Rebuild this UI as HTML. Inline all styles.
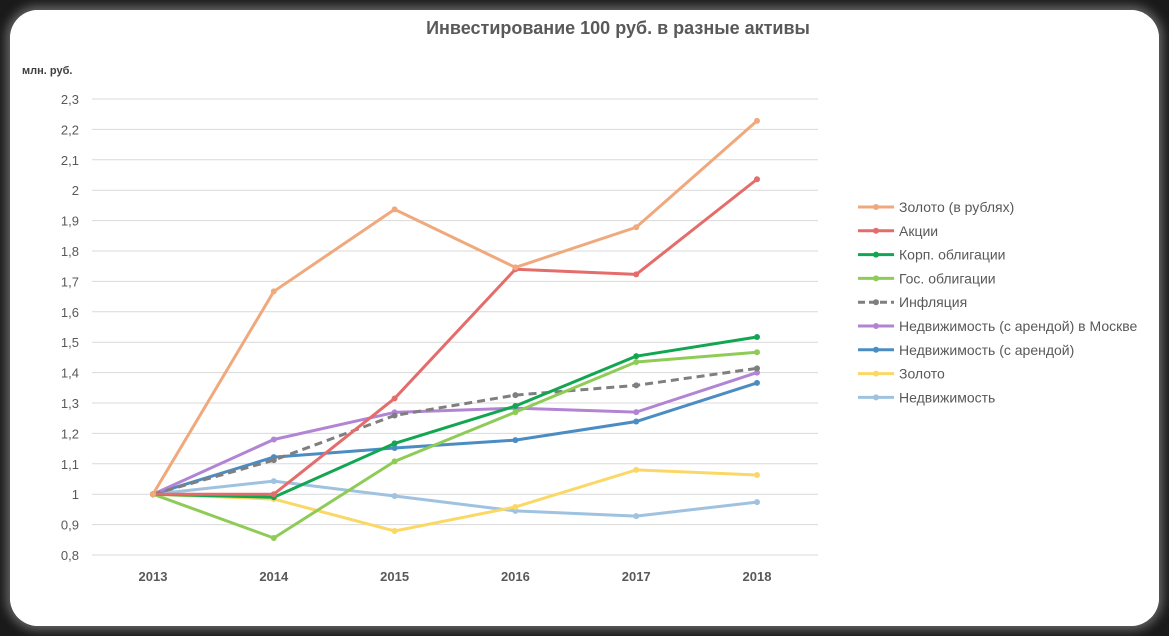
<!DOCTYPE html>
<html><head><meta charset="utf-8"><style>
html,body{margin:0;padding:0;}
body{width:1169px;height:636px;background:#1a1a1a;position:relative;overflow:hidden;font-family:"Liberation Sans","DejaVu Sans",sans-serif;}
#card{position:absolute;left:10px;top:10px;width:1149px;height:616px;background:#fff;border-radius:28px;box-shadow:0 0 14px 10px #fff inset, 0 0 10px 4px #666;}
svg{position:absolute;left:0;top:0;}
</style></head><body>
<div id="card"></div>
<svg id="chart" width="1169" height="636"></svg>
<script>
const years = ["2013","2014","2015","2016","2017","2018"];
const yTicks = [0.8,0.9,1,1.1,1.2,1.3,1.4,1.5,1.6,1.7,1.8,1.9,2,2.1,2.2,2.3];
const seriesNames = ["Золото (в рублях)","Акции","Корп. облигации","Гос. облигации","Инфляция","Недвижимость (с арендой) в Москве","Недвижимость (с арендой)","Золото","Недвижимость"];
const goldRub = [1,1.667,1.937,1.746,1.878,2.228];
const stocks = [1,1.0,1.315,1.74,1.723,2.036];
const corpBonds = [1,0.99,1.167,1.29,1.454,1.517];
const govBonds = [1,0.856,1.108,1.27,1.435,1.467];
const inflation = [1,1.112,1.259,1.326,1.358,1.414];
const moscowRE = [1,1.18,1.269,1.283,1.27,1.40];
const rentRE = [1,1.122,1.152,1.178,1.239,1.366];
const gold = [1,0.984,0.879,0.958,1.08,1.063];
const realEstate = [1,1.043,0.994,0.945,0.928,0.974];
const colors = ["#f0a97c","#e46c6a","#12a652","#8fcb57","#7f7f7f","#b184d4","#4b8dc3","#fbd865","#9fc2e0"];
const allSeries = [goldRub,stocks,corpBonds,govBonds,inflation,moscowRE,rentRE,gold,realEstate];

const NS="http://www.w3.org/2000/svg";
const svg=document.getElementById('chart');
const yMin=0.8,yMax=2.3,yTop=99,yBot=555,xL=92,xR=818;
const yScale=v=>yBot-(v-yMin)/(yMax-yMin)*(yBot-yTop);
const xScale=i=>153+i*120.8;
function mk(tag,attrs){const e=document.createElementNS(NS,tag);for(const k in attrs)e.setAttribute(k,attrs[k]);svg.appendChild(e);return e;}

const title=mk('text',{x:618,y:34,'text-anchor':'middle','font-size':'18','font-weight':'bold',fill:'#595959'});
title.textContent='Инвестирование 100 руб. в разные активы';


const unit=mk('text',{x:22,y:74,'font-size':'11','font-weight':'bold',fill:'#404040'});
unit.textContent='млн. руб.';



yTicks.forEach(t=>{
  const y=yScale(t);
  const g=mk('line',{x1:xL,x2:xR,y1:y,y2:y,stroke:'#d9d9d9','stroke-width':1});
  
  
  const l=mk('text',{x:79,y:y+5,'text-anchor':'end','font-size':'13',fill:'#595959'});
  l.textContent=String(t).replace('.',',');
  
  
});
years.forEach((yr,i)=>{
  const l=mk('text',{x:xScale(i),y:581,'text-anchor':'middle','font-size':'13','font-weight':'bold',fill:'#595959'});
  l.textContent=yr;
  
  
});
for(let s=allSeries.length-1;s>=0;s--){
  const vals=allSeries[s];
  const pts=vals.map((v,i)=>xScale(i)+','+yScale(v)).join(' ');
  const pl=mk('polyline',{points:pts,fill:'none',stroke:colors[s],'stroke-width':3,'stroke-linejoin':'round'});
  if(s===4)pl.setAttribute('stroke-dasharray','8,5');
  
  
  vals.forEach((v,i)=>{
    const c=mk('circle',{cx:xScale(i),cy:yScale(v),r:3,fill:colors[s]});
    
    
  });
}
seriesNames.forEach((n,i)=>{
  const y=207+i*23.8;
  const ln=mk('line',{x1:858,x2:894,y1:y,y2:y,stroke:colors[i],'stroke-width':3});
  if(i===4)ln.setAttribute('stroke-dasharray','7,4');
  
  
  const c=mk('circle',{cx:876,cy:y,r:3,fill:colors[i]});
  
  
  const t=mk('text',{x:899,y:y+5,'font-size':'14',fill:'#595959'});
  t.textContent=n;
  
  
});
</script>
</body></html>
